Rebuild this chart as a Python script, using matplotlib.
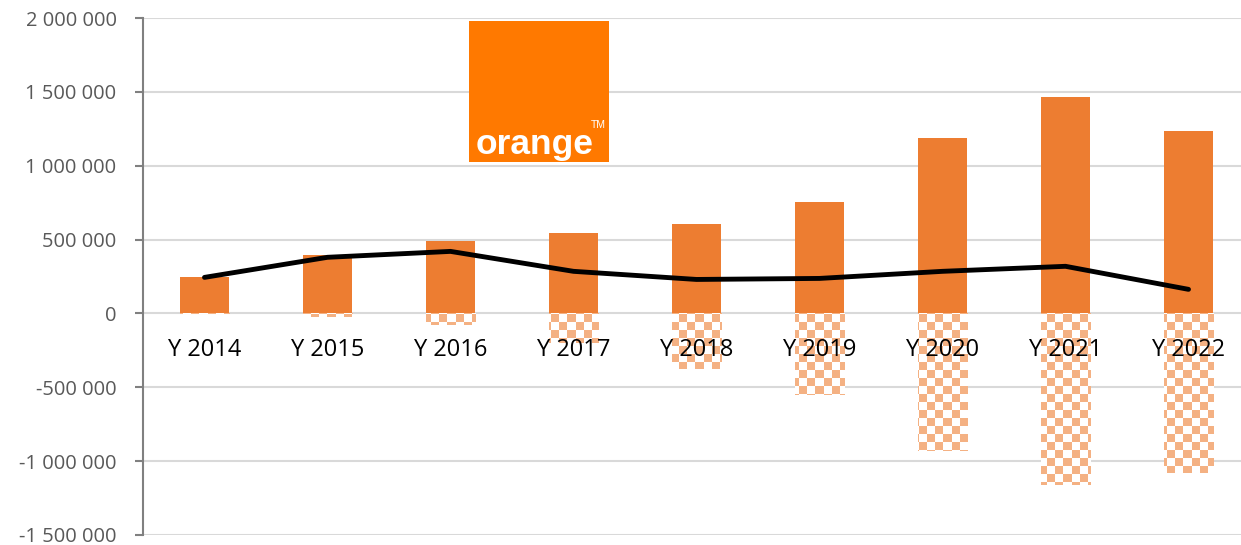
import numpy as np
import matplotlib.pyplot as plt
from matplotlib.ticker import FuncFormatter

years = ["Y 2014", "Y 2015", "Y 2016", "Y 2017", "Y 2018", "Y 2019", "Y 2020", "Y 2021", "Y 2022"]
positive = [244000, 393000, 488000, 542000, 603000, 753000, 1186000, 1464000, 1234000]
negative = [-5000, -25000, -75000, -203000, -373000, -549000, -929000, -1159000, -1078000]
net = [244000, 380000, 420000, 285000, 230000, 237000, 285000, 319000, 163000]

orange = "#ED7D31"

fig = plt.figure(figsize=(12.41, 5.45), dpi=100)
ax = fig.add_axes([143 / 1241, 10 / 545, 1107 / 1241, 517 / 545])

x = np.arange(len(years))
ax.bar(x, positive, width=0.4, color=orange, zorder=2)
neg_bars = ax.bar(x, negative, width=0.4, color="white", zorder=2)

# checkerboard fill for the negative bars
nx, ny = 1107 // 8 + 1, 517 // 8 + 1
ii, jj = np.meshgrid(np.arange(nx), np.arange(ny))
mask = (ii + jj) % 2 == 0
rgb = np.ones((ny, nx, 3))
rgb[mask] = np.array([0xF4, 0xB1, 0x83]) / 255.0
for b in neg_bars:
    im = ax.imshow(rgb, extent=(-0.5, -0.5 + nx * 8 / 1107 * 9, 2e6 - ny * 8 / 517 * 3.5e6, 2e6),
                   aspect="auto", interpolation="nearest", zorder=2.5)
    im.set_clip_path(b)

ax.plot(x, net, color="black", lw=3.5, solid_capstyle="round", zorder=4)

ax.set_xlim(-0.5, 8.5)
ax.set_ylim(-1500000, 2000000)
ax.set_yticks(np.arange(-1500000, 2000001, 500000))
ax.yaxis.set_major_formatter(FuncFormatter(lambda v, p: f"{int(v):,}".replace(",", " ")))
ax.grid(axis="y", color="#D9D9D9", lw=1.5, zorder=0)
ax.set_axisbelow(True)

for s in ["top", "right", "bottom"]:
    ax.spines[s].set_visible(False)
ax.spines["left"].set_color("#808080")
ax.spines["left"].set_linewidth(1.5)

ax.tick_params(axis="y", colors="#808080", length=6, width=1.5, pad=13,
               labelsize=14.5, labelcolor="#595959", direction="out")
for lab in ax.get_yticklabels():
    lab.set_fontfamily("Open Sans")
ax.set_xticks([])

# category labels sit just under the zero line, above the bars
for xi, name in zip(x, years):
    ax.annotate(name, (xi, 0), xytext=(0, -26), textcoords="offset points",
                ha="center", va="center", fontsize=17, fontfamily="Open Sans",
                color="black", zorder=6)

# orange logo box
logo = fig.add_axes([469 / 1241, (545 - 162) / 545, 140 / 1241, 141 / 545])
logo.set_facecolor("#FF7900")
logo.set_xticks([])
logo.set_yticks([])
for s in logo.spines.values():
    s.set_visible(False)
logo.text(0.05, 0.06, "orange", color="white", fontsize=25.5, fontweight="bold",
          fontfamily="Liberation Sans", transform=logo.transAxes, ha="left", va="baseline")
logo.text(0.87, 0.24, "TM", color="white", fontsize=7.5,
          fontfamily="Liberation Sans", transform=logo.transAxes, ha="left", va="baseline")

fig.savefig("out.png", dpi=100)
